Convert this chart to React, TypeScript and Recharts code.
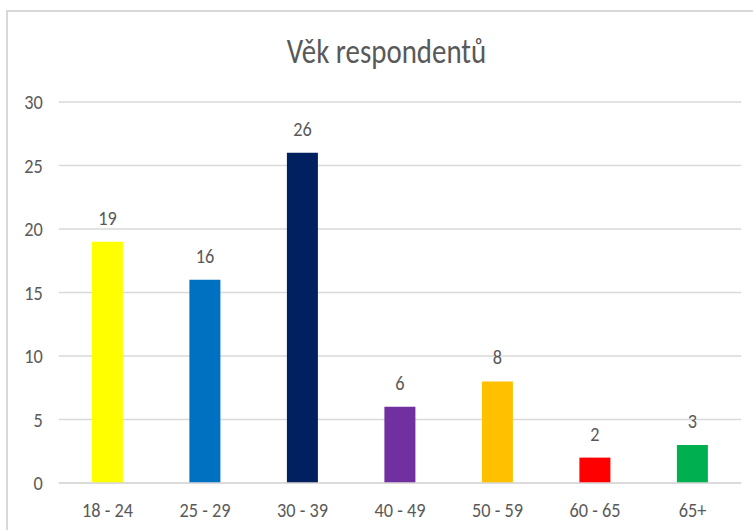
import React from 'react';
import { BarChart, Bar, XAxis, YAxis, CartesianGrid, Cell, LabelList } from 'recharts';

const categories = ['18 - 24', '25 - 29', '30 - 39', '40 - 49', '50 - 59', '60 - 65', '65+'];
const values = [19, 16, 26, 6, 8, 2, 3];
const colors = ['#FFFF00', '#0070C0', '#002060', '#7030A0', '#FFC000', '#FF0000', '#00B050'];
const yTicks = [0, 5, 10, 15, 20, 25, 30];
const title = 'Věk respondentů';

const data = categories.map((c, i) => ({ name: c, value: values[i] }));

const FONT = 'Carlito, Lato, "Liberation Sans Narrow", Roboto, sans-serif';
const SX = 0.87;

const XTick = (props: any) => {
  const { x, y, payload } = props;
  return (
    <g transform={`translate(${x},${y})`}>
      <text transform={`scale(${SX},1)`} x={0} y={34} textAnchor="middle" fill="#595959" fontSize={21} fontFamily={FONT}>
        {payload.value}
      </text>
    </g>
  );
};

const YTick = (props: any) => {
  const { x, y, payload } = props;
  return (
    <g transform={`translate(${x},${y})`}>
      <text transform={`scale(${SX},1)`} x={0} y={7} textAnchor="end" fill="#595959" fontSize={21} fontFamily={FONT}>
        {payload.value}
      </text>
    </g>
  );
};

const TopLabel = (props: any) => {
  const { x, y, width, value } = props;
  return (
    <g transform={`translate(${x + width / 2},${y})`}>
      <text transform={`scale(${SX},1)`} x={0} y={-17} textAnchor="middle" fill="#595959" fontSize={21} fontFamily={FONT}>
        {value}
      </text>
    </g>
  );
};

export default function App() {
  return (
    <div style={{ position: 'absolute', left: 0, top: 0, width: 753, height: 530, background: '#fff', fontFamily: FONT }}>
      <div style={{ position: 'absolute', left: 6, top: 10, width: 747, height: 520, borderLeft: '2px solid #d9d9d9', borderTop: '2px solid #d9d9d9', boxSizing: 'border-box' }} />
      <svg style={{ position: 'absolute', left: 0, top: 0 }} width={753} height={90}>
        <g transform="translate(386.5,63)">
          <text transform={`scale(0.85,1)`} x={0} y={0} textAnchor="middle" fill="#595959" fontSize={34} fontFamily={FONT}>
            {title}
          </text>
        </g>
      </svg>
      <div style={{ position: 'absolute', left: 0, top: 0 }}>
        <BarChart width={753} height={530} data={data} margin={{ top: 102, right: 11.75, bottom: 17, left: 0 }} barCategoryGap="34%">
          <CartesianGrid vertical={false} stroke="#d9d9d9" strokeWidth={1.3} />
          <XAxis dataKey="name" axisLine={{ stroke: '#d9d9d9', strokeWidth: 1.3 }} tickLine={false} tickSize={0} tickMargin={0} height={30} interval={0} tick={<XTick />} />
          <YAxis domain={[0, 30]} ticks={yTicks} width={58.75} axisLine={false} tickLine={false} tickSize={0} tickMargin={16} tick={<YTick />} />
          <Bar dataKey="value" isAnimationActive={false}>
            {data.map((d, i) => (
              <Cell key={d.name} fill={colors[i]} />
            ))}
            <LabelList dataKey="value" position="top" content={<TopLabel />} />
          </Bar>
        </BarChart>
      </div>
    </div>
  );
}
